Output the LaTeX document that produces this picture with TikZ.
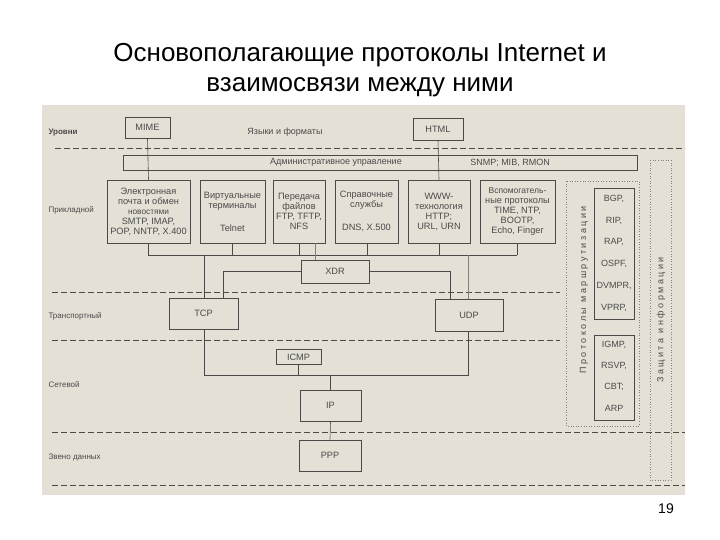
\documentclass[tikz,border=0pt]{standalone}
\usepackage{fontspec}
\setmainfont{Liberation Sans}
\usetikzlibrary{calc}
\definecolor{paper}{HTML}{E4E0D6}
\definecolor{ink}{HTML}{4A4A48}
\tikzset{
  box/.style={draw=ink, line width=0.9pt, inner sep=0pt, align=center, text=ink,
    font=\fontsize{9.2}{10}\selectfont},
  lvl/.style={anchor=west, text=ink, font=\fontsize{8}{9}\selectfont},
  wire/.style={draw=ink, line width=0.6pt},
  sep/.style={draw=ink, line width=0.8pt, dash pattern=on 6pt off 3pt},
  dots/.style={draw=ink!70, line width=0.6pt, dotted},
  txt/.style={text=ink, font=\fontsize{9}{10}\selectfont}
}
\begin{document}
\begin{tikzpicture}[x=1pt,y=-1pt]
  \useasboundingbox (0,0) rectangle (720,540);
  % заголовок
  \node[font=\fontsize{26}{30}\selectfont, align=center] (title) at (360,70)
    {Основополагающие  протоколы Internet и\\взаимосвязи между ними};
  \fill[paper] (42,105) rectangle (685,495);
  \node[font=\fontsize{14}{16}\selectfont] (page) at (666,509) {19};

  % уровни
  \node[lvl, font=\bfseries\fontsize{8}{9}\selectfont] (l0) at (45,133) {Уровни};
  \node[lvl] (l1) at (45,210) {Прикладной};
  \node[lvl] (l2) at (45,316) {Транспортный};
  \node[lvl] (l3) at (45,385) {Сетевой};
  \node[lvl] (l4) at (45,458) {Звено данных};

  % разделители
  \draw[sep] (55,148) -- (685,148);
  \draw[sep] (52,292) -- (560,292);
  \draw[sep] (52,340) -- (560,340);
  \draw[sep] (52,432) -- (685,432);
  \draw[sep] (52,485) -- (685,485);

  % языки и форматы
  \node[box, minimum width=45, minimum height=21] (mime) at (147.5,127.5) {MIME};
  \node[box, minimum width=50, minimum height=22] (html) at (438,129) {HTML};
  \node[txt] (lang) at (285,132) {Языки и форматы};

  % административное управление
  \node[box, minimum width=514, minimum height=15] (adm) at (380,162.5) {};
  \node[txt] (admt) at (336,162.5) {Административное управление};
  \node[txt] (snmp) at (510,162.5) {SNMP; MIB, RMON};

  % прикладные
  \node[box, minimum width=83, minimum height=63] (mail) at (148.5,211.5)
    {Электронная\\почта и обмен\\{\fontsize{8.3}{10}\selectfont новостями}\\SMTP, IMAP,\\POP, NNTP, X.400};
  \node[box, minimum width=65, minimum height=63] (term) at (232.5,211.5)
    {Виртуальные\\терминалы\\[13pt]Telnet};
  \node[box, minimum width=52, minimum height=63] (ftp) at (299,211.5)
    {Передача\\файлов\\FTP, TFTP,\\NFS};
  \node[box, minimum width=63, minimum height=63] (dns) at (366.5,211.5)
    {Справочные\\службы\\[13pt]DNS, X.500};
  \node[box, minimum width=62, minimum height=63] (www) at (439,211.5)
    {WWW-\\технология\\HTTP;\\URL, URN};
  \node[box, minimum width=75, minimum height=63] (aux) at (517.5,211.5)
    {\fontsize{8.5}{9.8}\selectfont Вспомогатель-\\ные протоколы\\TIME, NTP,\\BOOTP,\\Echo, Finger};

  \draw[wire] (mime.south) -- (mail.north);
  \draw[wire] (html.south) -- (www.north);

  % шина прикладного уровня
  \coordinate (b1) at (148,255);
  \coordinate (b6) at (517,255);
  \draw[wire] (b1) -- (b6);
  \foreach \n/\x in {mail/148, term/232, ftp/299, dns/367, www/439, aux/517}
    \draw[wire] (\x,243) -- (\x,255);

  % транспорт
  \node[box, minimum width=68, minimum height=23] (xdr) at (335,271.5) {XDR};
  \node[box, minimum width=69, minimum height=31] (tcp) at (203.5,313.5) {TCP};
  \node[box, minimum width=68, minimum height=32] (udp) at (469,315) {UDP};
  \draw[wire] (204,255) -- (204,298);
  \draw[wire, ink!70] (315,243) -- (315,260);
  \draw[wire] (223,298) |- (xdr.west);
  \draw[wire] (xdr.east) -| (450,299);

  % сетевой
  \node[box, minimum width=45, minimum height=15] (icmp) at (298.5,357) {ICMP};
  \node[box, minimum width=61, minimum height=31] (ip) at (330.5,405.5) {IP};
  \node[box, minimum width=62, minimum height=31] (ppp) at (330,455.5) {PPP};
  \coordinate (n1) at (204,375);
  \coordinate (n2) at (468,375);
  \draw[wire] (204,329) -- (n1) -- (n2) -- (468,331);
  \draw[wire, ink!70] (468,255) -- (468,299);
  \draw[wire] (icmp.south) -- (icmp.south |- n1);
  \draw[wire] (ip.north) -- (ip.north |- n1);
  \draw[wire] (ip.south) -- (ppp.north);

  % маршрутизация и защита
  \draw[dots] (566,181) rectangle (639,426);
  \draw[dots] (650,160) rectangle (671,480);
  \node[box, minimum width=40, minimum height=131] (rt1) at (614,253.5) {};
  \node[box, minimum width=40, minimum height=85] (rt2) at (614,377.5) {};
  \foreach \t [count=\i] in {BGP, RIP, RAP, OSPF, DVMPR, VPRP}
    \node[txt] (r\i) at (614,177+21.8*\i) {\t,};
  \foreach \t [count=\i] in {{IGMP,}, {RSVP,}, {CBT;}, ARP}
    \node[txt] (s\i) at (614,324+21*\i) {\t};
  \node[rotate=90, txt] (rtt) at (584,290)
    {П р о т о к о л ы\ \ м а р ш р у т и з а ц и и};
  \node[rotate=90, txt] (sec) at (661,320)
    {З а щ и т а\ \ и н ф о р м а ц и и};
\end{tikzpicture}
\end{document}
